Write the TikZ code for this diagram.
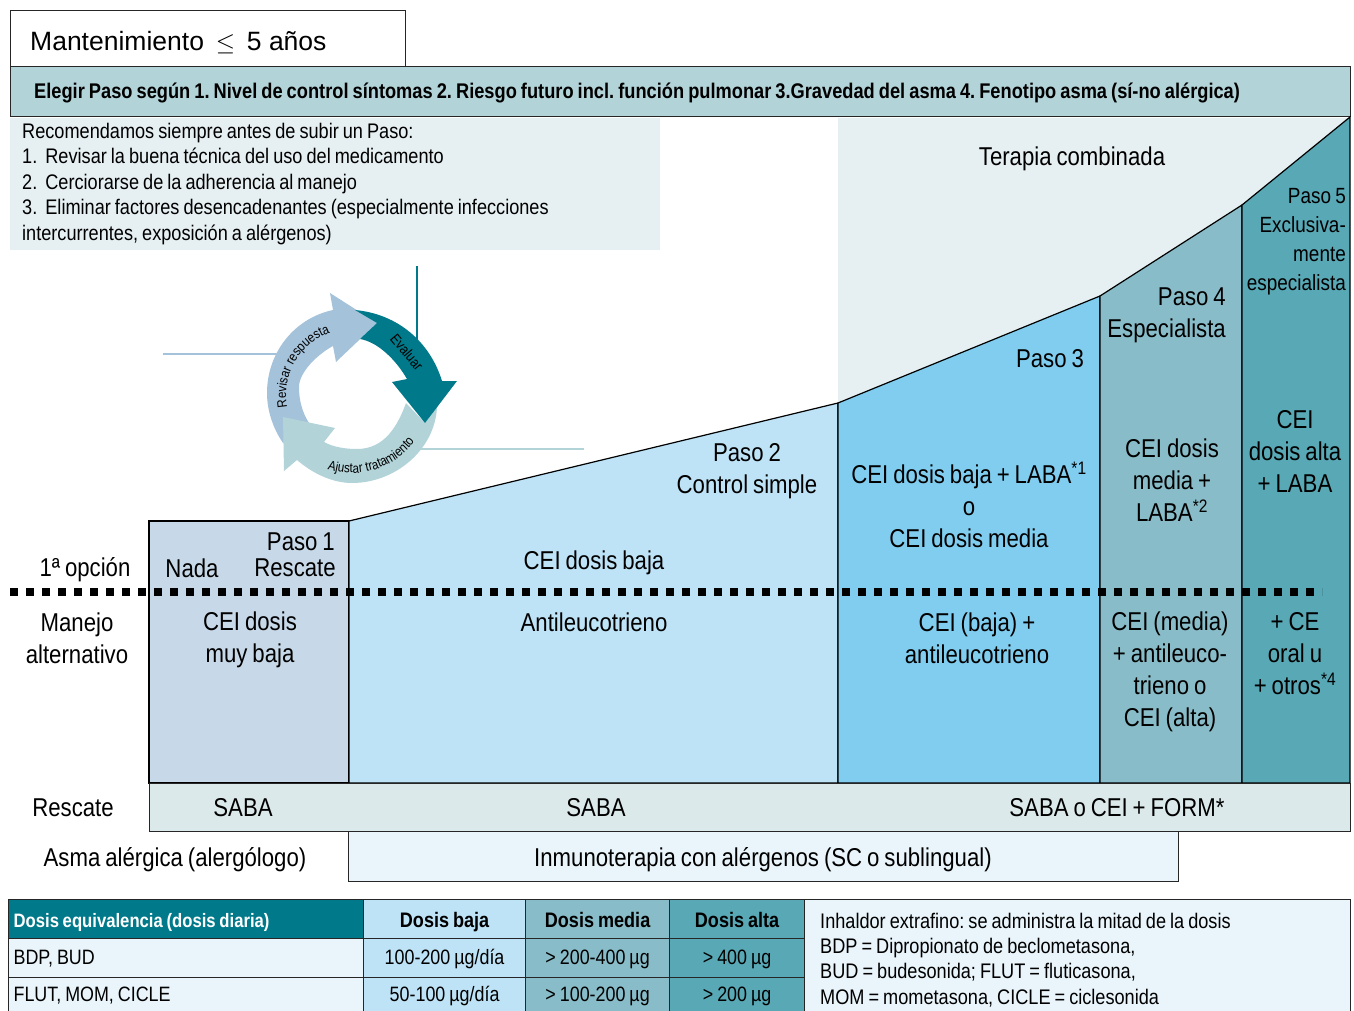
\documentclass[tikz,border=0pt]{standalone}
\usepackage{fontspec}
\setmainfont{Liberation Sans}[FakeStretch=0.86, WordSpace=0.8]
\newfontfamily\anchafont{Liberation Sans}
\newfontfamily\ciclofont{Liberation Sans}[FakeStretch=0.86]
\usetikzlibrary{decorations.text}
\definecolor{banda}{HTML}{B2D3D8}
\definecolor{claro}{HTML}{E6EFF2}
\definecolor{paso1}{HTML}{C7D9E8}
\definecolor{paso2}{HTML}{BEE3F6}
\definecolor{paso3}{HTML}{80CDEF}
\definecolor{paso4}{HTML}{88BCC8}
\definecolor{paso5}{HTML}{58A8B5}
\definecolor{rescate}{HTML}{DCE9EA}
\definecolor{inmuno}{HTML}{E9F5FB}
\definecolor{petroleo}{HTML}{007A8A}
\definecolor{revisar}{HTML}{A5C2DB}
\tikzset{
	paso/.style={draw=black, line width=1.2pt},
	caja/.style={draw=black!85, line width=1.2pt, anchor=north west, inner sep=0pt},
	etiq/.style={inner sep=0pt, align=center, font=\fontsize{25.8}{32}\selectfont},
	nota/.style={inner sep=0pt, align=left, anchor=north west, font=\fontsize{21.1}{25.5}\selectfont},
	celda/.style={caja, minimum height=39pt, text height=14pt, text depth=2pt, font=\fontsize{20.8}{24}\selectfont},
	titulo/.style={celda, text height=16pt, text depth=0pt, font=\bfseries\fontsize{21}{24}\selectfont},
	guia/.style={line width=2pt},
	ciclo/.style={font=\ciclofont\fontsize{14.5}{16}\selectfont}
}
\begin{document}
\frenchspacing
\begin{tikzpicture}[x=1pt, y=-1pt]
	\clip (0,0) rectangle (1354,1011);

	% cabecera
	\node[caja, fill=white, minimum width=395pt, minimum height=56pt] (mant) at (10,10) {};
	\node[inner sep=0pt, anchor=base west, font=\anchafont\fontsize{26.5}{30}\selectfont] (manttxt) at (30,50.5) {Mantenimiento \,$\leq$\, 5 años};
	\node[caja, fill=banda, minimum width=1340pt, minimum height=50pt] (elegir) at (10,66) {};
	\node[inner sep=0pt, anchor=base west, font=\bfseries\fontsize{21.22}{24}\selectfont] (elegirtxt) at (34,99) {Elegir Paso según 1. Nivel de control síntomas 2. Riesgo futuro incl. función pulmonar 3.Gravedad del asma 4. Fenotipo asma (sí-no alérgica)};

	% recomendaciones
	\node[anchor=north west, fill=claro, inner sep=0pt, minimum width=650pt, minimum height=132pt] (recom) at (10,118) {};
	\node[nota] (recomtxt) at (22,123) {Recomendamos siempre antes de subir un Paso:\\
		1.\ \ Revisar la buena técnica del uso del medicamento\\
		2.\ \ Cerciorarse de la adherencia al manejo\\
		3.\ \ Eliminar factores desencadenantes (especialmente infecciones\\
		intercurrentes, exposición a alérgenos)};

	% terapia combinada y escalones
	\fill[claro] (838,118) -- (1350,118) -- (1242,205) -- (1100,296) -- (838,403) -- cycle;
	\filldraw[paso, fill=paso1] (149,521) -- (349,521) -- (349,783) -- (149,783) -- cycle;
	\filldraw[paso, fill=paso2] (349,521) -- (838,403) -- (838,783) -- (349,783) -- cycle;
	\filldraw[paso, fill=paso3] (838,403) -- (1100,296) -- (1100,783) -- (838,783) -- cycle;
	\filldraw[paso, fill=paso4] (1100,296) -- (1242,205) -- (1242,783) -- (1100,783) -- cycle;
	\filldraw[paso, fill=paso5] (1242,205) -- (1350,117) -- (1350,783) -- (1242,783) -- cycle;

	% ciclo
	\coordinate (guia1a) at (417,266);
	\coordinate (guia1b) at (417,340);
	\coordinate (guia2a) at (163,354);
	\coordinate (guia2b) at (280,354);
	\coordinate (guia3a) at (584,449);
	\coordinate (guia3b) at (420,449);
	\draw[guia, petroleo] (guia1a) -- (guia1b);
	\draw[guia, revisar] (guia2a) -- (guia2b);
	\draw[guia, banda] (guia3a) -- (guia3b);
	\fill[revisar] (377,323) -- (330,293) -- (333,310) .. controls (295,318) and (267,352) .. (267,393) .. controls (267,412) and (274,430) .. (283,443) -- (309,423) .. controls (302,412) and (299,400) .. (299,387) .. controls (299,372) and (318,354) .. (333,346) -- (336,362) -- cycle;
	\fill[banda] (283,417) -- (335,428) -- (324,442) .. controls (333,447) and (345,449) .. (357,449) .. controls (385,449) and (398,425) .. (406,403) -- (425,423) -- (437,407) .. controls (435,450) and (395,483) .. (352,483) .. controls (332,483) and (312,473) .. (297,460) -- (284,471) -- cycle;
	\fill[petroleo] (355,310) -- (377,323) -- (360,339) .. controls (378,342) and (396,360) .. (407,379) -- (392,382) -- (425,423) -- (457,381) -- (442,381) .. controls (430,342) and (398,314) .. (355,310) -- cycle;
	\path[decorate, decoration={text along path, text align=center, text={|\ciclofont\fontsize{13.5}{15}\selectfont|Revisar respuesta}}] (287,406.5) .. controls (281.5,375) and (299.4,343.9) .. (329.4,333);
	\path[decorate, decoration={text along path, text align=center, text={|\ciclofont\fontsize{13.5}{15}\selectfont|Ajustar tratamiento}}] (325.3,468.3) .. controls (358.5,480.3) and (395.6,468.6) .. (415.9,439.7);
	\node[ciclo, rotate=-50, inner sep=0pt] (evaluar) at (407,352) {Evaluar};

	% textos de los pasos
	\node[etiq, anchor=north east] (paso1txt) at (335,533) {Paso 1};
	\node[etiq] (nada) at (192,568) {Nada};
	\node[etiq] (resc1) at (295,568) {Rescate};
	\node[etiq] (opcion) at (85,570) {1ª opción};
	\node[etiq] (manejo) at (77,638) {Manejo\\alternativo};
	\node[etiq] (ceimuy) at (250,640) {CEI dosis\\muy baja};
	\node[etiq] (paso2txt) at (747,471) {Paso 2\\Control simple};
	\node[etiq] (ceibaja) at (594,563) {CEI dosis baja};
	\node[etiq] (antileu) at (594,622) {Antileucotrieno};
	\node[etiq] (paso3txt) at (1050,359) {Paso 3};
	\node[etiq] (cei3) at (969,505) {CEI dosis baja + LABA\textsuperscript{*1}\\o\\CEI dosis media};
	\node[etiq] (alt3) at (977,638) {CEI (baja) +\\antileucotrieno};
	\node[etiq, align=right, anchor=east] (paso4txt) at (1226,315) {Paso 4\\Especialista};
	\node[etiq] (cei4) at (1172,480) {CEI dosis\\media +\\LABA\textsuperscript{*2}};
	\node[etiq] (alt4) at (1170,672) {CEI (media)\\+ antileuco-\\trieno o\\CEI (alta)};
	\node[inner sep=0pt, align=right, anchor=east, font=\fontsize{22}{29}\selectfont] (paso5txt) at (1346,242) {Paso 5\\Exclusiva-\\mente\\especialista};
	\node[etiq] (cei5) at (1295,451) {CEI\\dosis alta\\+ LABA};
	\node[etiq] (alt5) at (1295,654) {+ CE\\oral u\\+ otros\textsuperscript{*4}};
	\node[etiq] (terapia) at (1072,159) {Terapia combinada};

	% linea de puntos
	\coordinate (puntosa) at (10,592);
	\coordinate (puntosb) at (1322,592);
	\draw[line width=8pt, dash pattern=on 8pt off 8pt] (puntosa) -- (puntosb);

	% rescate e inmunoterapia
	\node[caja, fill=rescate, minimum width=1201pt, minimum height=48pt] (rescbanda) at (149,783) {};
	\node[etiq] (resclab) at (73,808) {Rescate};
	\node[etiq] (saba1) at (243,808) {SABA};
	\node[etiq] (saba2) at (596,808) {SABA};
	\node[etiq] (saba3) at (1117,808) {SABA o CEI + FORM*};
	\node[etiq] (alerg) at (175,860) {Asma alérgica (alergólogo)};
	\node[caja, fill=inmuno, minimum width=830pt, minimum height=50pt] (inmu) at (348,831) {};
	\node[etiq] (inmutxt) at (763,860) {Inmunoterapia con alérgenos (SC o sublingual)};

	% tabla de dosis
	\node[caja, fill=inmuno, minimum width=546pt, minimum height=125pt] (leyenda) at (804,899) {};
	\node[nota] (leyendatxt) at (820,912.5) {Inhaldor extrafino: se administra la mitad de la dosis\\
		BDP = Dipropionato de beclometasona,\\
		BUD = budesonida; FLUT = fluticasona,\\
		MOM = mometasona, CICLE = ciclesonida};
	\node[titulo, fill=petroleo, text=white, minimum width=355pt, text width=345pt, align=flush left, font=\bfseries\fontsize{19.4}{24}\selectfont] (h0) at (8,899) {Dosis equivalencia (dosis diaria)};
	\node[titulo, fill=paso2, minimum width=162pt] (h1) at (363,899) {Dosis baja};
	\node[titulo, fill=paso4, minimum width=144pt] (h2) at (525,899) {Dosis media};
	\node[titulo, fill=paso5, minimum width=135pt] (h3) at (669,899) {Dosis alta};
	\node[celda, fill=inmuno, minimum width=355pt, text width=345pt, align=flush left] (r1c0) at (8,938) {BDP, BUD};
	\node[celda, fill=paso2, minimum width=162pt] (r1c1) at (363,938) {100-200 µg/día};
	\node[celda, fill=paso4, minimum width=144pt] (r1c2) at (525,938) {> 200-400 µg};
	\node[celda, fill=paso5, minimum width=135pt] (r1c3) at (669,938) {> 400 µg};
	\node[celda, minimum height=36pt, fill=inmuno, minimum width=355pt, text width=345pt, align=flush left] (r2c0) at (8,977) {FLUT, MOM, CICLE};
	\node[celda, minimum height=36pt, fill=paso2, minimum width=162pt] (r2c1) at (363,977) {50-100 µg/día};
	\node[celda, minimum height=36pt, fill=paso4, minimum width=144pt] (r2c2) at (525,977) {> 100-200 µg};
	\node[celda, minimum height=36pt, fill=paso5, minimum width=135pt] (r2c3) at (669,977) {> 200 µg};
\end{tikzpicture}
\end{document}
